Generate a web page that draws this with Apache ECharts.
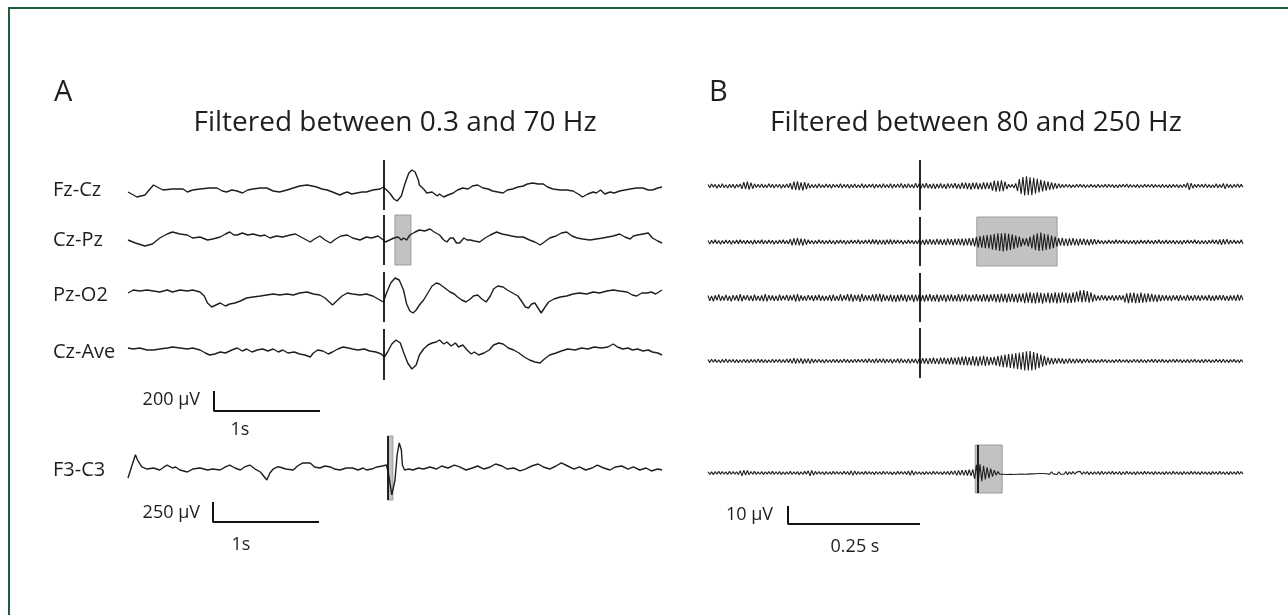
<!DOCTYPE html>
<html>
<head>
<meta charset="utf-8">
<script src="https://cdn.jsdelivr.net/npm/echarts@6/dist/echarts.min.js"></script>
<style>
  html, body { margin: 0; padding: 0; background: #fff; }
  #chart { width: 1288px; height: 615px; }
</style>
</head>
<body>
<div id="chart"></div>
<script>
// ---- panel A: 0.3-70 Hz, [time s, amplitude uV] ----
const fzCzA = [[0,-20],[0.085,-70],[0.16,-50],[0.24,50],[0.33,0],[0.42,10],[0.52,10],[0.56,-20],[0.61,0],[0.68,10],[0.77,20],[0.84,20],[0.89,-10],[0.93,-20],[0.98,0],[1.03,-10],[1.08,-30],[1.13,0],[1.18,10],[1.25,20],[1.31,20],[1.37,-10],[1.43,-20],[1.5,0],[1.56,20],[1.62,40],[1.69,50],[1.74,40],[1.78,30],[1.83,10],[1.88,0],[1.93,-20],[2.0,-50],[2.04,-30],[2.07,-20],[2.11,-40],[2.16,-30],[2.21,-20],[2.25,-20],[2.31,0],[2.38,10],[2.41,30],[2.43,10],[2.47,-30],[2.51,-90],[2.54,-110],[2.58,-60],[2.61,50],[2.65,170],[2.68,200],[2.71,180],[2.74,100],[2.75,50],[2.79,10],[2.82,-30],[2.87,-20],[2.92,-60],[2.94,-40],[2.98,-70],[3.02,-50],[3.07,-30],[3.11,0],[3.16,20],[3.21,10],[3.25,40],[3.3,50],[3.35,20],[3.4,10],[3.44,-10],[3.49,-20],[3.54,-30],[3.58,0],[3.63,10],[3.68,30],[3.73,40],[3.77,60],[3.82,70],[3.87,60],[3.92,60],[3.96,30],[4.01,10],[4.08,0],[4.14,0],[4.2,-10],[4.25,-40],[4.29,-70],[4.34,-40],[4.39,-20],[4.42,-30],[4.46,0],[4.5,-40],[4.55,-20],[4.59,-30],[4.64,-10],[4.69,0],[4.74,10],[4.8,20],[4.86,20],[4.91,0],[4.95,0],[5.0,20],[5.04,30]];
const czPzA = [[0,0],[0.07,-30],[0.16,-60],[0.23,-40],[0.3,20],[0.37,60],[0.42,80],[0.49,60],[0.56,50],[0.61,20],[0.68,30],[0.75,0],[0.8,10],[0.87,30],[0.92,60],[0.96,80],[1.0,50],[1.03,50],[1.08,70],[1.13,50],[1.18,60],[1.25,40],[1.29,50],[1.34,20],[1.4,40],[1.46,30],[1.53,50],[1.58,60],[1.65,20],[1.72,-20],[1.76,10],[1.81,40],[1.86,0],[1.91,-30],[1.96,10],[2.01,40],[2.07,50],[2.12,20],[2.19,0],[2.25,30],[2.3,20],[2.36,40],[2.41,0],[2.43,-20],[2.47,0],[2.51,20],[2.55,30],[2.58,0],[2.6,20],[2.63,0],[2.66,50],[2.71,80],[2.75,100],[2.8,90],[2.85,110],[2.89,80],[2.94,50],[2.98,0],[3.01,-20],[3.04,20],[3.07,20],[3.1,-30],[3.13,-30],[3.17,20],[3.2,0],[3.23,0],[3.27,-10],[3.32,-20],[3.37,20],[3.42,50],[3.48,80],[3.53,60],[3.58,50],[3.62,40],[3.67,30],[3.73,30],[3.79,0],[3.84,-20],[3.89,-50],[3.93,-20],[3.98,20],[4.04,40],[4.09,70],[4.14,80],[4.19,40],[4.24,20],[4.29,10],[4.36,0],[4.42,10],[4.48,20],[4.53,30],[4.58,40],[4.64,60],[4.69,30],[4.74,10],[4.77,40],[4.81,50],[4.86,60],[4.91,70],[4.95,20],[5.0,-10],[5.04,-30]];
const pzO2A = [[0,20],[0.05,50],[0.11,40],[0.18,50],[0.24,40],[0.3,30],[0.37,50],[0.42,30],[0.49,50],[0.56,40],[0.61,50],[0.68,30],[0.72,-10],[0.75,-80],[0.79,-120],[0.83,-100],[0.87,-80],[0.92,-110],[0.96,-90],[1.01,-80],[1.06,-60],[1.12,-30],[1.18,-20],[1.25,-10],[1.31,0],[1.37,10],[1.43,0],[1.5,10],[1.56,0],[1.62,20],[1.69,30],[1.75,10],[1.81,0],[1.86,-30],[1.91,-80],[1.93,-100],[1.97,-60],[2.02,-10],[2.07,20],[2.12,10],[2.19,0],[2.25,10],[2.31,-10],[2.36,-40],[2.41,-70],[2.44,20],[2.48,120],[2.52,170],[2.56,150],[2.6,50],[2.63,-90],[2.66,-160],[2.69,-180],[2.72,-150],[2.75,-100],[2.79,-50],[2.83,20],[2.87,90],[2.91,120],[2.94,110],[2.99,70],[3.04,30],[3.08,10],[3.11,-20],[3.15,-50],[3.19,-70],[3.23,-40],[3.26,-10],[3.3,0],[3.34,-40],[3.38,-70],[3.42,-10],[3.45,60],[3.49,90],[3.54,80],[3.58,50],[3.63,20],[3.68,-10],[3.72,-70],[3.75,-120],[3.78,-130],[3.81,-90],[3.84,-80],[3.87,-130],[3.9,-180],[3.93,-130],[3.97,-70],[4.02,-40],[4.08,-20],[4.14,-10],[4.2,10],[4.26,20],[4.33,10],[4.39,30],[4.45,20],[4.52,40],[4.58,50],[4.64,40],[4.71,30],[4.76,0],[4.8,-10],[4.85,20],[4.9,20],[4.94,30],[4.98,10],[5.04,50]];
const czAveA = [[0,40],[0.05,30],[0.11,40],[0.18,20],[0.24,20],[0.3,30],[0.37,40],[0.42,50],[0.49,40],[0.56,30],[0.61,40],[0.68,20],[0.73,-10],[0.77,-30],[0.82,-20],[0.87,0],[0.92,-10],[0.98,20],[1.03,40],[1.08,10],[1.12,30],[1.17,0],[1.22,20],[1.27,30],[1.32,10],[1.37,30],[1.42,0],[1.46,20],[1.51,-10],[1.57,0],[1.62,-20],[1.67,-30],[1.72,-50],[1.75,-10],[1.79,20],[1.84,10],[1.89,-20],[1.93,0],[1.98,30],[2.03,50],[2.08,40],[2.12,30],[2.17,20],[2.23,30],[2.28,10],[2.34,0],[2.39,-20],[2.42,-50],[2.45,0],[2.49,80],[2.53,120],[2.57,90],[2.6,0],[2.64,-110],[2.68,-170],[2.72,-130],[2.75,-30],[2.79,30],[2.83,70],[2.87,90],[2.91,100],[2.94,120],[2.98,80],[3.01,100],[3.05,60],[3.09,90],[3.12,50],[3.16,70],[3.2,20],[3.24,-20],[3.27,0],[3.31,-30],[3.36,-10],[3.41,20],[3.45,70],[3.5,90],[3.54,80],[3.59,40],[3.64,20],[3.69,-10],[3.74,-50],[3.79,-80],[3.84,-100],[3.89,-110],[3.93,-70],[3.98,-30],[4.04,-10],[4.09,10],[4.15,30],[4.22,20],[4.28,40],[4.34,30],[4.4,50],[4.47,40],[4.53,50],[4.58,80],[4.62,50],[4.67,30],[4.72,40],[4.76,20],[4.81,30],[4.86,10],[4.91,20],[4.95,0],[5.0,-10],[5.04,-30]];
const f3C3A = [[0,-100],[0.03,25],[0.07,190],[0.09,125],[0.13,38],[0.18,12],[0.24,25],[0.3,0],[0.34,38],[0.37,62],[0.42,25],[0.45,38],[0.49,0],[0.56,-25],[0.61,12],[0.68,25],[0.75,0],[0.8,12],[0.87,0],[0.92,38],[0.96,62],[1.01,25],[1.06,0],[1.1,38],[1.15,62],[1.2,12],[1.25,-25],[1.28,-75],[1.31,-125],[1.34,-38],[1.37,12],[1.41,38],[1.43,38],[1.49,12],[1.56,0],[1.6,50],[1.65,88],[1.72,88],[1.76,38],[1.81,25],[1.86,50],[1.91,38],[1.95,12],[2.0,0],[2.06,25],[2.12,25],[2.17,0],[2.22,25],[2.25,0],[2.3,12],[2.35,38],[2.4,50],[2.44,62],[2.46,-62],[2.49,-312],[2.52,-125],[2.54,188],[2.56,338],[2.58,250],[2.59,62],[2.61,0],[2.65,12],[2.69,0],[2.74,25],[2.79,12],[2.85,38],[2.91,12],[2.96,50],[3.02,25],[3.08,62],[3.13,38],[3.19,0],[3.25,25],[3.3,50],[3.36,12],[3.42,38],[3.47,75],[3.53,50],[3.58,12],[3.64,25],[3.7,-12],[3.75,12],[3.81,50],[3.87,75],[3.92,38],[3.98,12],[4.04,50],[4.09,88],[4.15,50],[4.21,12],[4.26,38],[4.32,0],[4.38,25],[4.43,62],[4.49,25],[4.55,0],[4.6,38],[4.66,50],[4.72,12],[4.77,38],[4.83,0],[4.89,25],[4.94,-12],[5.0,12],[5.04,0]];

// ---- panel B: 80-250 Hz, evenly sampled amplitude uV ----
const fzCzB = [
  0.8,-1.0,1.1,-0.7,0.9,-1.2,0.8,-0.9,1.2,-1.0,0.7,-1.1,0.9,-0.8,1.0,-1.2,0.9,-0.7,1.1,
  -1.6,2.2,-1.8,2.4,-2.0,1.9,-1.5,1.2,
  -0.9,1.0,-0.8,1.1,-1.0,0.7,-0.9,1.2,-0.8,1.0,-1.1,0.9,-0.7,1.0,-1.2,0.8,-0.9,1.1,-1.0,
  1.6,-2.0,2.4,-2.2,2.6,-2.3,2.0,-2.4,2.2,-1.8,1.5,-1.2,
  0.9,-1.0,0.8,-1.1,1.2,-0.9,0.7,-1.0,1.1,-0.8,0.9,-1.2,1.0,-0.7,0.8,-1.0,1.3,-1.1,0.9,-0.8,
  1.0,-1.2,0.8,-0.9,1.1,-1.0,0.7,-0.9,1.2,-1.1,0.8,-1.0,0.9,-0.7,1.1,-1.3,1.0,-0.8,0.9,-1.1,
  1.2,-0.9,0.8,-1.0,1.3,-1.2,1.0,-0.8,1.1,-0.9,1.4,-1.2,1.0,-1.1,1.3,-0.9,0.8,-1.2,1.5,-1.0,
  1.2,-1.4,1.3,-1.1,1.5,-1.2,1.0,-1.4,1.3,-1.5,1.1,-1.2,1.4,-1.3,1.0,-1.5,1.4,-1.2,1.3,-1.1,1.5,-1.4,1.2,
  -1.6,1.8,-1.5,1.9,-1.7,1.6,-2.0,1.8,-1.6,1.9,-1.8,1.5,-1.9,2.0,-1.7,1.8,-1.6,2.0,
  -2.6,3.0,-3.2,2.8,-3.0,3.2,-2.8,2.4,-1.8,
  1.0,-0.8,0.9,-1.1,1.4,
  -2.8,3.8,-4.4,5.0,-5.2,5.4,-5.0,4.8,-5.1,4.6,-4.2,4.0,-3.6,3.4,-3.0,
  2.8,-2.6,2.4,-2.2,2.0,-1.8,1.6,-1.4,1.3,-1.1,
  0.9,-0.8,1.0,-0.7,0.8,-0.9,0.6,-0.8,1.0,-0.7,0.9,-0.6,0.8,-1.0,0.7,-0.8,0.9,-0.7,0.6,-0.9,
  1.0,-0.8,0.7,-0.6,0.9,-0.8,1.0,-0.7,0.8,-0.9,0.7,-1.0,0.8,-0.6,0.9,-0.7,1.1,-0.9,0.8,-0.7,
  0.6,-0.8,0.9,-1.0,0.7,-0.8,0.9,-0.6,0.8,-0.7,1.0,-0.9,0.8,-0.6,0.7,-0.9,1.0,-0.8,0.7,-0.9,
  0.8,-1.0,0.9,-0.7,0.8,-0.9,0.7,-0.8,1.0,-0.9,1.8,-2.2,1.6,-1.2,0.9,-0.8,1.0,-0.7,0.9,-0.8,
  1.1,-0.9,0.8,-1.0,0.7,-0.9,1.2,-1.0,0.8,-0.9,1.4,-1.6,1.2,-0.9,0.8,-1.0,0.9,-0.7,1.1,-0.8,
  0.9,-0.7];
const czPzB = [
  0.9,-1.1,1.0,-0.8,1.2,-1.0,0.9,-1.2,0.8,-1.0,1.1,-0.9,1.0,-1.2,0.8,-0.9,1.1,-1.0,1.2,-0.8,
  0.9,-1.1,1.0,-0.9,0.8,-1.2,1.1,-1.0,0.9,-0.8,1.2,-1.1,0.9,-1.0,1.1,-0.8,1.0,-1.2,0.9,-1.0,
  1.1,-0.9,1.2,-1.0,0.8,-1.1,
  1.6,-1.8,2.0,-1.7,2.2,-1.9,1.8,-2.0,1.7,-1.5,1.3,
  -1.0,0.9,-1.1,0.8,-1.0,1.2,-0.9,1.0,-1.1,0.8,-0.9,1.1,-1.0,0.9,-1.2,1.0,-0.8,1.1,-0.9,1.0,
  -1.2,0.9,-1.0,1.1,-0.8,1.0,-0.9,1.2,-1.1,0.9,-1.0,1.1,-0.9,1.3,-1.2,1.4,-1.1,1.3,-1.4,1.2,
  -1.3,1.1,-1.4,1.3,-1.2,1.4,-1.3,1.2,-1.0,1.1,-0.9,1.0,-1.2,0.9,-1.0,1.1,-0.8,1.0,-1.1,0.9,-1.0,
  1.3,-1.4,1.2,-1.5,1.4,-1.3,1.6,-1.4,1.3,-1.5,1.7,-1.4,1.5,-1.6,1.4,-1.7,1.8,-1.5,1.6,-1.8,
  1.7,-1.6,1.9,-1.7,1.8,-2.0,1.9,-1.8,2.1,-2.0,2.2,-2.4,
  2.8,-3.0,3.3,-3.1,3.6,-3.4,3.8,-3.6,4.0,-4.2,4.4,-4.6,4.8,-5.0,4.9,-5.2,5.0,-4.8,4.6,-4.4,4.2,-3.8,3.6,-3.2,3.0,-2.6,
  2.0,-1.8,2.2,-2.4,3.0,
  -3.6,4.0,-4.4,4.8,-5.0,5.2,-4.8,4.6,-4.4,4.2,-4.0,3.6,-3.4,3.0,-2.6,
  2.2,-2.0,2.3,-2.1,1.9,-2.2,2.0,-1.8,2.1,-1.9,1.7,-2.0,1.8,-1.6,1.9,-1.7,1.5,-1.8,1.6,-1.4,1.5,-1.3,1.2,
  -1.0,0.9,-1.1,0.8,-1.0,1.1,-0.9,0.8,-1.0,1.2,-0.9,1.0,-0.8,1.1,-1.0,0.9,-1.1,0.8,-0.9,1.0,
  -1.2,0.9,-1.0,1.1,-0.8,0.9,-1.0,1.1,-0.9,0.8,-1.1,1.0,-0.9,1.2,-1.0,0.8,-0.9,1.1,-1.0,0.9,
  -0.8,1.0,-1.1,0.9,-1.0,0.8,-1.2,1.0,-0.9,1.1,-0.8,1.0,-0.9,1.2,-1.0,0.9,-1.1,0.8,-1.0,0.9,
  -1.1,1.0,-0.9,1.2,-1.0,1.1,-1.3,1.4,-1.6,1.5,-1.3,1.6,-1.2,1.0,-0.9,1.1,-1.0,0.8,-0.9,1.2,
  -1.0];
const pzO2B = [
  1.4,-1.6,1.2,-1.8,1.5,-1.3,2.0,-1.6,1.1,-1.4,1.7,-1.5,1.2,-1.9,1.6,-1.3,1.5,-1.7,2.1,-1.8,
  1.4,-1.2,1.6,-1.5,1.3,-1.7,1.9,-1.4,1.2,-1.6,1.5,-1.8,2.2,-1.9,1.6,-1.3,1.4,-1.5,1.2,-1.6,
  1.8,-1.4,1.3,-1.2,1.7,-1.6,1.4,-1.3,1.9,-2.0,2.2,-1.8,1.5,-1.4,1.2,-1.5,1.6,-1.2,1.4,-1.7,
  1.5,-1.3,1.8,-1.6,1.3,-1.5,1.1,-1.4,1.6,-1.7,1.9,-1.5,1.2,-1.6,2.0,-1.7,1.5,-1.3,2.1,-1.8,
  2.2,-2.0,1.7,-1.5,1.8,-2.1,2.3,-1.7,1.6,-1.4,1.5,-1.6,2.0,-1.8,2.1,-1.7,2.4,-2.2,2.0,-1.6,
  1.4,-1.7,1.8,-2.0,1.6,-2.1,1.7,-1.8,2.0,-1.6,1.8,-2.1,1.7,-1.5,1.9,-2.2,1.8,-1.7,
  1.9,-1.8,1.6,-2.0,1.8,-1.7,2.1,-1.9,1.6,-1.8,2.0,-2.1,1.7,-1.6,1.9,-2.2,1.8,-1.7,2.0,-1.9,
  1.6,-1.8,2.1,-2.0,1.8,-1.7,2.2,-1.9,1.7,-2.0,1.9,-1.6,2.1,-1.8,1.7,-2.0,2.2,-1.9,1.8,-2.1,
  2.0,-1.7,2.2,
  -2.3,2.1,-2.4,2.5,-2.2,2.3,-2.6,2.4,-2.1,2.5,-2.3,2.2,-2.6,2.4,-2.2,
  2.6,-2.8,3.0,-2.6,3.1,-2.9,2.7,-3.0,3.2,-2.7,2.8,-3.1,2.6,-2.5,3.0,-2.9,2.7,-2.6,3.1,-3.0,
  2.8,-2.7,3.2,-2.5,3.0,-2.9,2.6,-2.7,3.1,-2.5,
  3.6,-2.0,4.2,-2.4,4.4,-2.2,3.8,-2.6,3.2,-2.2,2.0,
  -1.5,1.3,-1.4,1.6,-1.2,1.4,-1.5,1.3,-1.1,1.5,-1.6,1.4,-1.3,1.5,-1.2,1.4,
  -2.4,2.6,-2.8,2.9,-2.6,3.0,-2.8,2.5,-2.7,3.0,-2.6,2.4,-2.5,2.6,-2.2,2.3,-2.0,1.9,-2.1,1.8,-1.7,1.6,-1.5,
  1.5,-1.4,1.3,-1.6,1.5,-1.2,1.4,-1.7,1.6,-1.3,1.2,-1.5,1.7,-1.4,1.3,-1.5,1.6,-1.3,1.4,-1.6,
  1.5,-1.2,1.3,-1.4,1.7,-1.5,1.3,-1.6,1.4,-1.1,1.5,-1.3,1.6,-1.4,1.2,-1.5,1.4,-1.3,1.5,-1.6,
  1.8,-1.4,1.6,-1.2];
const czAveB = [
  0.8,-0.9,1.0,-0.7,0.9,-0.8,0.7,-1.0,0.9,-0.8,1.1,-0.9,0.8,-0.7,0.9,-1.0,0.8,-0.9,0.7,-0.8,
  1.0,-0.9,0.8,-1.0,0.9,-0.7,0.8,-0.9,1.1,-0.8,0.9,-1.0,0.8,-0.9,0.7,-0.8,1.0,-0.9,0.8,-0.7,
  0.9,-1.0,0.8,-0.9,1.1,-1.0,1.2,-1.3,1.5,-1.4,1.3,-1.2,1.4,-1.5,1.2,-1.1,1.3,-1.4,1.2,-1.0,
  0.9,-0.8,1.0,-0.9,0.8,-1.1,0.9,-0.8,0.7,-0.9,1.0,-0.8,0.9,-1.0,0.8,-0.9,1.1,-0.8,0.9,-1.0,
  0.8,-0.9,1.0,-0.8,0.9,-0.7,1.0,-0.9,1.1,-1.0,1.2,-0.9,1.0,-1.1,1.3,-1.0,1.1,-0.9,1.2,-1.1,
  1.0,-0.9,1.1,-1.2,1.0,-0.8,1.2,-1.1,1.3,-1.0,0.9,-1.1,1.2,-1.3,1.1,-1.0,1.2,-1.4,
  1.3,-1.5,1.6,-1.4,1.5,-1.7,1.6,-1.5,1.8,-1.6,1.5,-1.7,1.8,-1.6,1.9,-1.7,1.6,-1.8,2.0,-1.8,1.9,-2.0,2.1,
  -2.2,2.4,-2.3,2.6,-2.4,2.2,-2.5,2.7,-2.6,2.4,-2.8,2.6,-2.5,2.9,-2.7,2.5,-2.4,2.2,-2.0,2.3,-2.6,2.8,
  -3.0,3.2,-3.4,3.6,-3.5,3.8,-3.9,4.0,-4.2,4.4,-4.6,4.5,-4.8,5.0,-5.2,5.4,-5.3,5.5,-5.2,5.0,-4.8,4.4,-4.0,3.6,-3.2,2.8,-2.4,2.0,
  -1.8,1.6,-1.7,1.5,-1.4,1.6,-1.3,1.4,-1.5,1.2,-1.3,1.4,-1.2,1.1,-1.3,1.2,-1.0,1.1,-1.2,1.0,-0.9,1.1,-1.0,0.9,-1.0,
  0.8,-0.9,0.7,-0.8,0.9,-0.7,0.8,-1.0,0.7,-0.8,0.6,-0.9,0.8,-0.7,0.9,-0.8,0.7,-0.6,0.8,-0.9,
  0.7,-0.8,1.0,-0.7,0.8,-1.0,0.9,-0.8,0.7,-0.9,0.8,-0.7,0.9,-0.8,1.0,-0.9,0.8,-0.7,0.9,-0.8,
  0.7,-0.9,0.8,-0.7,1.0,-0.8,0.9,-0.7,0.8,-0.9,0.7,-0.8,0.9,-1.0,0.8,-0.7,0.9,-0.8,0.7,-0.9,
  0.8,-1.0,0.9,-0.7,0.8,-0.9,0.7,-0.8,0.9,-0.7,0.8,-0.9,1.0,-0.8,0.7,-0.9,0.8,-0.7,0.9,-0.8,
  0.7,-0.9,0.8,-0.7];
const f3C3B = [
  0.7,-0.8,0.6,-0.9,0.8,-0.7,0.9,-0.6,0.8,-0.7,0.6,-0.8,0.9,-0.7,0.8,-0.6,0.7,-0.9,1.3,-1.6,
  1.5,-1.2,1.4,-1.0,0.8,-0.7,0.9,-0.8,0.6,-0.7,0.8,-0.9,0.7,-0.6,0.8,-0.7,0.9,-0.8,0.7,-0.6,
  0.8,-0.9,0.7,-0.8,0.6,-0.7,0.9,-0.8,0.7,-0.6,0.8,-0.9,0.7,-0.8,0.9,-0.7,1.2,-1.5,1.4,-1.2,
  0.9,-0.7,0.8,-0.6,0.7,-0.9,0.8,-0.7,0.6,-0.8,0.9,-0.7,0.8,-0.6,0.7,-0.8,0.9,-0.7,0.8,-1.0,
  1.2,-1.3,1.1,-0.9,0.8,-0.7,0.6,-0.8,0.9,-0.7,0.8,-0.6,0.7,-0.9,0.8,-0.7,0.6,-0.8,0.9,-0.7,
  0.8,-0.7,0.6,-0.9,0.7,-0.8,0.9,-0.6,0.8,-0.7,
  0.8,-0.9,1.1,-1.3,1.4,-1.1,0.8,-0.7,0.6,-0.8,0.7,-0.9,0.8,-0.6,0.7,-0.8,0.9,-0.7,0.8,-0.6,
  0.7,-0.9,0.8,-0.7,0.9,-1.0,1.1,-0.9,1.2,-1.3,1.4,-1.2,1.5,-1.3,1.6,-1.4,1.8,-1.6,2.0,
  -3.2,4.6,-5.0,4.8,-4.6,4.0,-3.6,3.2,-2.8,2.4,-2.0,1.6,-1.2,0.8,
  -0.6,-0.3,-0.7,-0.4,-0.8,-0.5,-0.7,-0.4,-0.8,-0.5,-0.7,-0.3,-0.6,-0.4,-0.7,-0.3,-0.6,-0.2,-0.5,-0.1,-0.4,0.0,-0.3,0.1,-0.3,0.2,-0.4,0.3,
  -0.6,0.7,-0.5,0.6,-0.8,0.7,-0.6,0.5,-0.7,0.8,-0.9,0.7,-0.6,0.8,-0.7,0.5,-0.6,0.9,-0.8,0.7,
  -0.5,0.8,-0.9,0.7,-0.8,0.6,-0.7,0.8,-0.9,1.0,-0.8,0.7,-0.6,0.8,-0.7,0.9,-0.8,0.6,-0.7,0.8,
  -0.9,0.7,-0.8,0.9,-0.7,0.6,-0.8,0.7,-0.9,0.8,-0.7,0.6,-0.8,0.9,-0.7,0.8,-0.6,0.7,-0.9,0.8,
  -0.7,0.6,-0.8,0.7,-0.9,0.8,-0.6,0.7,-0.8,0.9,-0.7,0.6,-0.8,0.7,-0.9,0.8,-0.7,0.6,-0.8,0.9,
  -0.7,0.8,-0.6,0.7,-0.9,0.8,-0.7,0.6,-0.8,0.7,-0.9,0.8,-0.6,0.7,-0.8,0.9,-0.7,0.6,-0.8,0.7,
  -0.9,0.8,-0.7,0.6,-0.8,0.9,-0.7,0.8,-0.6];

const channelsA = ['Fz-Cz', 'Cz-Pz', 'Pz-O2', 'Cz-Ave', 'F3-C3'];
const titleA = 'Filtered between 0.3 and 70 Hz';
const titleB = 'Filtered between 80 and 250 Hz';

// event markers (s) and shaded windows (s)
const eventA = 2.41, eventF3A = 2.453;
const shadeCzPzA = [2.519, 2.67], shadeF3A = [2.453, 2.5];
const eventB = 0.40, eventF3B = 0.506;
const shadeCzPzB = [0.509, 0.661], shadeF3B = [0.506, 0.557];

// scale bars [seconds, microvolts]
const barA = [1, 200], barF3A = [1, 250], barB = [0.25, 10];

const SPAN_A = 5.04, SPAN_B = 1.013;
const FONT = '"Open Sans", "DejaVu Sans", sans-serif';
const INK = '#1e1e1e';

const grids = [], xAxes = [], yAxes = [], series = [];

// one grid per trace; scale is px per uV so the channel baseline sits at `base`
function addTrace(box, data, extra) {
  const i = grids.length;
  grids.push({ left: box.left, top: box.top, width: box.width, height: box.height });
  xAxes.push({ type: 'value', gridIndex: i, min: 0, max: box.span, show: false });
  yAxes.push({
    type: 'value', gridIndex: i, show: false,
    min: -(box.top + box.height - box.base) / box.scale,
    max: (box.base - box.top) / box.scale
  });
  const s = {
    type: 'line', xAxisIndex: i, yAxisIndex: i, data: data,
    symbol: 'none', clip: false, animation: false, silent: true,
    lineStyle: { color: INK, width: box.lw }
  };
  if (extra.event != null) {
    s.markLine = {
      silent: true, symbol: ['none', 'none'], label: { show: false },
      lineStyle: { color: '#111', width: 1.8, type: 'solid' },
      data: [{ xAxis: extra.event }]
    };
  }
  if (extra.shade) {
    s.markArea = {
      silent: true,
      itemStyle: { color: '#c2c2c2', borderColor: '#9c9c9c', borderWidth: 1 },
      data: [[{ xAxis: extra.shade[0] }, { xAxis: extra.shade[1] }]]
    };
  }
  series.push(s);
}

function addBar(left, top, w, h, bar) {
  const i = grids.length;
  grids.push({ left: left, top: top, width: w, height: h });
  xAxes.push({ type: 'value', gridIndex: i, min: 0, max: bar[0], show: false });
  yAxes.push({ type: 'value', gridIndex: i, min: 0, max: bar[1], show: false });
  series.push({
    type: 'line', xAxisIndex: i, yAxisIndex: i, symbol: 'none', clip: false,
    animation: false, silent: true, lineStyle: { color: '#111', width: 2 },
    data: [[0, bar[1]], [0, 0], [bar[0], 0]]
  });
}

const evenly = (vals, span) => vals.map((v, k) => [k * span / (vals.length - 1), v]);

const A = { left: 128, width: 534, span: SPAN_A, scale: 0.1, lw: 1.4 };
addTrace({ ...A, top: 160, height: 50, base: 190 }, fzCzA, { event: eventA });
addTrace({ ...A, top: 215, height: 50, base: 240 }, czPzA, { event: eventA, shade: shadeCzPzA });
addTrace({ ...A, top: 272, height: 50, base: 295 }, pzO2A, { event: eventA });
addTrace({ ...A, top: 329, height: 51, base: 352 }, czAveA, { event: eventA });
addTrace({ ...A, top: 436, height: 64, base: 470, scale: 0.08 }, f3C3A, { event: eventF3A, shade: shadeF3A });

const B = { left: 708, width: 535, span: SPAN_B, scale: 1.8, lw: 1.1 };
addTrace({ ...B, top: 160, height: 50, base: 186 }, evenly(fzCzB, SPAN_B), { event: eventB });
addTrace({ ...B, top: 217, height: 49, base: 242 }, evenly(czPzB, SPAN_B), { event: eventB, shade: shadeCzPzB });
addTrace({ ...B, top: 273, height: 49, base: 298 }, evenly(pzO2B, SPAN_B), { event: eventB });
addTrace({ ...B, top: 328, height: 50, base: 361 }, evenly(czAveB, SPAN_B), { event: eventB });
addTrace({ ...B, top: 445, height: 48, base: 473 }, evenly(f3C3B, SPAN_B), { event: eventF3B, shade: shadeF3B });

addBar(214, 391, 106, barA[1] * 0.1, barA);
addBar(213, 502, 106, barF3A[1] * 0.08, barF3A);
addBar(788, 506, 132, barB[1] * 1.8, barB);

function txt(x, y, s, size, align) {
  return {
    type: 'text', x: x, y: y, silent: true,
    style: {
      text: s, font: size + 'px ' + FONT, fill: INK,
      align: align || 'left', verticalAlign: 'middle',
      textAlign: align || 'left', textVerticalAlign: 'middle'
    }
  };
}

const labelY = [190, 240, 295, 352, 470];
const graphics = [
  { type: 'rect', silent: true, shape: { x: 9, y: 8, width: 1300, height: 640 },
    style: { fill: 'none', stroke: '#1d5e3a', lineWidth: 2 } },
  txt(54, 93, 'A', 29),
  txt(395, 123, titleA, 28, 'center'),
  txt(709, 93, 'B', 29),
  txt(976, 123, titleB, 28, 'center'),
  txt(200, 400, '200 µV', 18, 'right'),
  txt(240, 430, '1s', 18, 'center'),
  txt(200, 513, '250 µV', 18, 'right'),
  txt(241, 545, '1s', 18, 'center'),
  txt(773, 515, '10 µV', 18, 'right'),
  txt(855, 547, '0.25 s', 18, 'center')
];
channelsA.forEach((c, k) => graphics.push(txt(53, labelY[k], c, 20)));

const chart = echarts.init(document.getElementById('chart'), null, { renderer: 'canvas' });
chart.setOption({
  backgroundColor: '#fff',
  animation: false,
  grid: grids,
  xAxis: xAxes,
  yAxis: yAxes,
  series: series,
  graphic: graphics
});
</script>
</body>
</html>
